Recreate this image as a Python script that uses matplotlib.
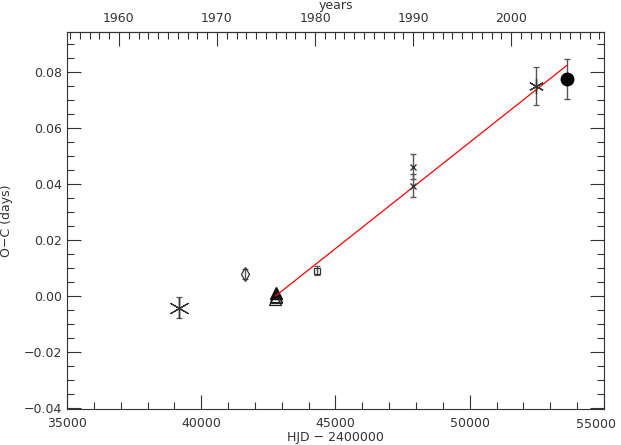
import matplotlib.pyplot as plt
from matplotlib.ticker import MultipleLocator, FixedLocator, FuncFormatter

# O-C data points (HJD - 2400000, O-C in days, error)
ast_big_x = [39171]
ast_big_y = [-0.0043]
ast_big_e = [0.0037]

dia_x = [41618]
dia_y = [0.0077]
dia_e = [0.0017]

tri_fill_x = [42775]
tri_fill_y = [0.0010]
tri_open_x = [42760, 42780, 42790]
tri_open_y = [-0.0012, -0.0006, 0.0000]

sq_x = [44322]
sq_y = [0.0089]
sq_e = [0.0016]

cross_x = [47880, 47880]
cross_y = [0.0462, 0.0394]
cross_e = [0.0043, 0.0042]

ast_x = [52478]
ast_y = [0.0751]
ast_e = [0.0068]

circ_x = [53611]
circ_y = [0.0774]
circ_e = [0.0072]

# linear fit line
fit_x = [42780, 53611]
fit_y = [0.0000, 0.0823]

year_ticks = [1960, 1970, 1980, 1990, 2000]
xmin, xmax = 35000, 55000

JD1960 = 36934.5  # HJD-2400000 of 1960.0


def hjd2yr(x):
    return 1960 + (x - JD1960) / 365.25


def yr2hjd(y):
    return JD1960 + (y - 1960) * 365.25


def yfmt(v, p):
    s = f'{abs(v):.2f}'
    return ('\u2212' + s) if v < -1e-9 else s


fig = plt.figure(figsize=(6.21, 4.45), dpi=100)
ax = fig.add_axes([0.1079, 0.0816, 0.8647, 0.8465])

ebkw = dict(ecolor='#555555', elinewidth=1.0, capsize=2, capthick=1.0, ls='none')

ax.errorbar(ast_big_x, ast_big_y, yerr=ast_big_e, marker=(6, 2, 0), ms=15,
            mec='#333333', mew=0.9, color='#333333', **ebkw)
ax.errorbar(dia_x, dia_y, yerr=dia_e, marker='d', ms=7, mfc='none',
            mec='#333333', mew=0.9, **ebkw)
ax.plot(tri_open_x, tri_open_y, ls='none', marker='^', ms=8, mfc='none',
        mec='#222222', mew=0.9)
ax.plot(tri_fill_x, tri_fill_y, ls='none', marker='^', ms=8, color='#111111')
ax.errorbar(sq_x, sq_y, yerr=sq_e, marker='s', ms=5, mfc='none',
            mec='#333333', mew=0.9, **ebkw)
ax.errorbar(cross_x, cross_y, yerr=cross_e, marker='x', ms=5,
            mec='#333333', mew=1.0, **ebkw)
ax.errorbar(ast_x, ast_y, yerr=ast_e, marker=(6, 2, 0), ms=11,
            mec='#333333', mew=0.9, **ebkw)
ax.errorbar(circ_x, circ_y, yerr=circ_e, marker='o', ms=9, color='black',
            **ebkw)
ax.plot(fit_x, fit_y, color='red', lw=0.9)

ax.set_xlim(xmin, xmax)
ax.set_ylim(-0.0404, 0.0943)

ax.xaxis.set_major_locator(MultipleLocator(5000))
ax.xaxis.set_minor_locator(MultipleLocator(1000))
# last label is drawn by hand so it stays inside the figure
ax.xaxis.set_major_formatter(FuncFormatter(lambda v, p: '' if v >= xmax else f'{v:.0f}'))
ax.yaxis.set_major_locator(MultipleLocator(0.02))
ax.yaxis.set_minor_locator(MultipleLocator(0.005))
ax.yaxis.set_major_formatter(FuncFormatter(yfmt))

tc = '#333333'
ax.tick_params(which='both', direction='in', right=True, colors=tc,
               labelsize=9, labelcolor='#333333')
ax.tick_params(axis='x', which='both', top=False, pad=6)
ax.tick_params(which='major', length=10, width=0.8)
ax.tick_params(which='minor', length=5, width=0.8)
for s in ax.spines.values():
    s.set_linewidth(0.8)
    s.set_color(tc)

ax.annotate(f'{xmax}', xy=(xmax, 0), xycoords=('data', 'axes fraction'),
            xytext=(-6, -6.5), textcoords='offset points', ha='center', va='top',
            fontsize=9, color='#333333')

ax.set_xlabel('HJD \u2212 2400000', fontsize=9, color='#333333', labelpad=1)
ax.set_ylabel('O\u2212C (days)', fontsize=9, color='#333333', labelpad=8)

sec = ax.secondary_xaxis('top', functions=(hjd2yr, yr2hjd))
sec.xaxis.set_major_locator(FixedLocator(year_ticks))
sec.xaxis.set_minor_locator(MultipleLocator(1))
sec.tick_params(which='both', direction='in', colors=tc, labelsize=9,
                labelcolor='#333333', pad=5)
sec.tick_params(which='major', length=10, width=0.8)
sec.tick_params(which='minor', length=5, width=0.8)
sec.spines['top'].set_linewidth(0.8)
sec.spines['top'].set_color(tc)
sec.set_xlabel('years', fontsize=9, color='#333333', labelpad=2)

fig.savefig('out.png', dpi=100)
